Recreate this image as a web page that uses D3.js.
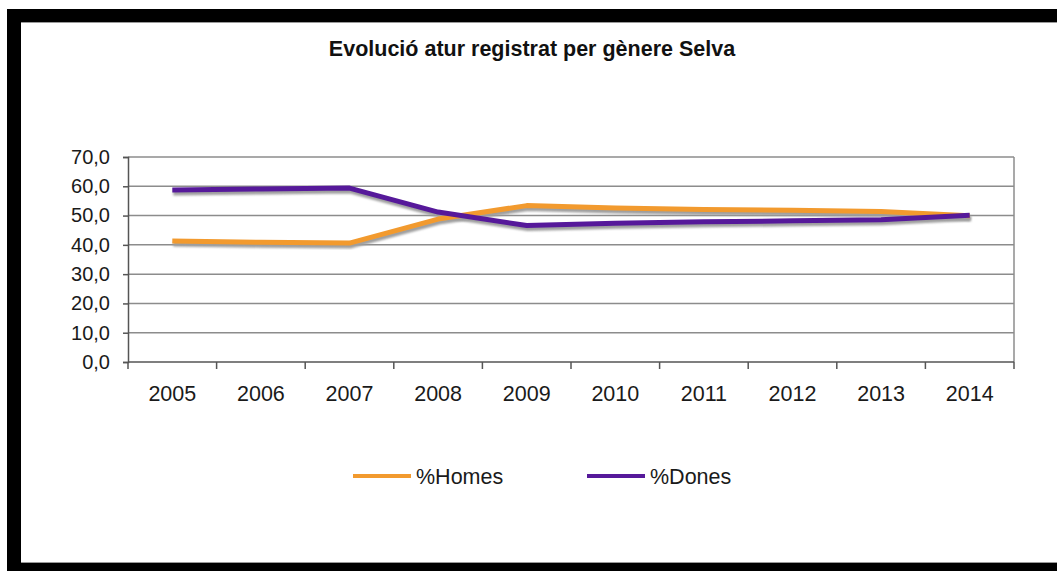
<!DOCTYPE html>
<html>
<head>
<meta charset="utf-8">
<script src="https://cdn.jsdelivr.net/npm/d3@7"></script>
<style>
  body { margin: 0; background: #fff; }
  svg { display: block; font-family: "Liberation Sans", Arial, sans-serif; }
</style>
</head>
<body>
<svg id="chart" width="1057" height="571"></svg>
<script>
// chart data
var years = ["2005", "2006", "2007", "2008", "2009", "2010", "2011", "2012", "2013", "2014"];
var homes = [41.3, 40.9, 40.6, 48.8, 53.4, 52.6, 52.1, 51.8, 51.4, 49.9];
var dones = [58.7, 59.1, 59.4, 51.2, 46.6, 47.4, 47.9, 48.2, 48.6, 50.1];
var yTicks = [0, 10, 20, 30, 40, 50, 60, 70];
var seriesNames = ["%Homes", "%Dones"];
var seriesColors = ["#f29a2e", "#56199a"];

var svg = d3.select("#chart");

// outer black frame (top, left, bottom)
svg.append("rect").attr("x", 7).attr("y", 9).attr("width", 1050).attr("height", 13).attr("fill", "#000");
svg.append("rect").attr("x", 7).attr("y", 9).attr("width", 14).attr("height", 562).attr("fill", "#000");
svg.append("rect").attr("x", 7).attr("y", 563).attr("width", 1050).attr("height", 8).attr("fill", "#000");
svg.append("line").attr("x1", 21).attr("x2", 1057).attr("y1", 22.5).attr("y2", 22.5)
  .attr("stroke", "#999").attr("stroke-width", 1);
svg.append("line").attr("x1", 21).attr("x2", 1057).attr("y1", 562.5).attr("y2", 562.5)
  .attr("stroke", "#999").attr("stroke-width", 1);

svg.append("text")
  .attr("x", 532).attr("y", 56)
  .attr("text-anchor", "middle")
  .attr("font-size", 21.5).attr("font-weight", "bold").attr("fill", "#111")
  .text("Evolució atur registrat per gènere Selva");

var margin = {left: 128, top: 157, right: 1014, bottom: 362};

var x = d3.scaleBand().domain(years).range([margin.left, margin.right]);
var y = d3.scaleLinear().domain([0, 70]).range([margin.bottom, margin.top]);

// gridlines
svg.append("g").selectAll("line").data(yTicks.slice(1)).enter().append("line")
  .attr("x1", margin.left).attr("x2", margin.right)
  .attr("y1", function(d) { return y(d); }).attr("y2", function(d) { return y(d); })
  .attr("stroke", "#8c8c8c").attr("stroke-width", 1.5);

// right border
svg.append("line").attr("x1", margin.right).attr("x2", margin.right)
  .attr("y1", margin.top).attr("y2", margin.bottom)
  .attr("stroke", "#8c8c8c").attr("stroke-width", 1.5);

// y axis
var yAxis = svg.append("g").attr("transform", "translate(" + margin.left + ",0)")
  .call(d3.axisLeft(y).tickValues(yTicks).tickSize(5).tickPadding(13)
    .tickFormat(function(d) { return d3.format(".1f")(d).replace(".", ","); }));
yAxis.select(".domain").attr("stroke", "#555").attr("stroke-width", 1.5);
yAxis.selectAll(".tick line").attr("stroke", "#555").attr("stroke-width", 1.5);
yAxis.selectAll("text").attr("font-size", 20).attr("fill", "#1a1a1a")
  .attr("font-family", "Liberation Sans, Arial, sans-serif");

// x axis: ticks at category boundaries
var xg = svg.append("g");
xg.append("line").attr("x1", margin.left).attr("x2", margin.right)
  .attr("y1", margin.bottom).attr("y2", margin.bottom)
  .attr("stroke", "#555").attr("stroke-width", 1.5);
var bounds = years.map(function(d) { return x(d); }).concat([margin.right]);
xg.selectAll(".xt").data(bounds).enter().append("line")
  .attr("x1", function(d) { return d; }).attr("x2", function(d) { return d; })
  .attr("y1", margin.bottom).attr("y2", margin.bottom + 7)
  .attr("stroke", "#555").attr("stroke-width", 1.5);
xg.selectAll("text").data(years).enter().append("text")
  .attr("x", function(d) { return x(d) + x.bandwidth() / 2; })
  .attr("y", 401)
  .attr("text-anchor", "middle")
  .attr("font-size", 21.5).attr("fill", "#1a1a1a")
  .text(function(d) { return d; });

// lines
var defs = svg.append("defs");
defs.append("filter").attr("id", "blur")
  .append("feGaussianBlur").attr("stdDeviation", 0.8);

var line = d3.line()
  .x(function(d, i) { return x(years[i]) + x.bandwidth() / 2; })
  .y(function(d) { return y(d); });

var series = [homes, dones];
series.forEach(function(s, i) {
  svg.append("path").datum(s)
    .attr("d", line)
    .attr("transform", "translate(1,3)")
    .attr("fill", "none").attr("stroke", "#9e9e9e").attr("stroke-width", 5)
    .attr("filter", "url(#blur)");
});
series.forEach(function(s, i) {
  svg.append("path").datum(s)
    .attr("d", line)
    .attr("fill", "none").attr("stroke", seriesColors[i]).attr("stroke-width", 5)
    .attr("stroke-linejoin", "round");
});

// legend
var legendX = [353, 587];
seriesNames.forEach(function(name, i) {
  svg.append("line").attr("x1", legendX[i]).attr("x2", legendX[i] + 58)
    .attr("y1", 476).attr("y2", 476)
    .attr("stroke", seriesColors[i]).attr("stroke-width", 4);
  svg.append("text").attr("x", legendX[i] + 63).attr("y", 484)
    .attr("font-size", 21.5).attr("fill", "#1a1a1a")
    .text(name);
});
</script>
</body>
</html>
